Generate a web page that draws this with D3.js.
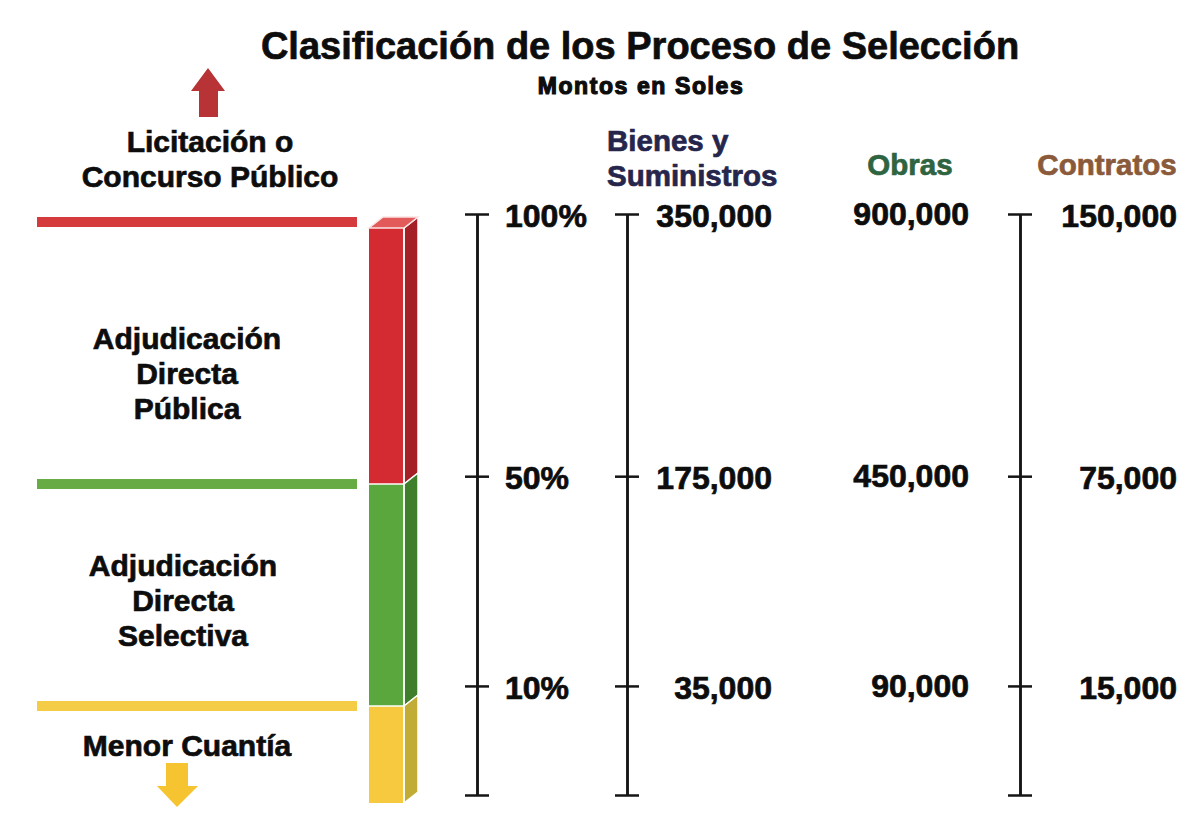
<!DOCTYPE html>
<html>
<head>
<meta charset="utf-8">
<script src="https://cdn.jsdelivr.net/npm/d3@7"></script>
<style>
  body { margin: 0; background: #fff; }
  svg text { font-family: Arial, "Liberation Sans", Helvetica, sans-serif; font-weight: 700; stroke-width: 0.7px; }
</style>
</head>
<body>
<svg id="chart"></svg>
<script>
// data
var levels = [100, 50, 10];
var pctLabels = ["100%", "50%", "10%"];
var bienes = [350000, 175000, 35000];
var obras = [900000, 450000, 90000];
var contratos = [150000, 75000, 15000];
var columns = [["Bienes y", "Suministros"], ["Obras"], ["Contratos"]];
var categories = [
  ["Licitación o", "Concurso Público"],
  ["Adjudicación", "Directa", "Pública"],
  ["Adjudicación", "Directa", "Selectiva"],
  ["Menor Cuantía"]
];
var segFrom = [50, 10, -7.5];
var segTo = [100, 50, 10];

var W = 1184, H = 827;
var fmt = d3.format(",");
var ink = "#0d0d0d";

var svg = d3.select("#chart").attr("width", W).attr("height", H);

// scales
var axisFloor = -10.8;
var yAxisScale = d3.scaleLinear().domain([axisFloor, 100]).range([795, 214]);
var yBar = d3.scaleLinear().domain([-7.5, 10, 50, 100]).range([803, 706, 484, 222]);

var segColors = [
  {front: "#d42b33", side: "#a51f27", top: "#e25a5a", line: "#d53a3c"},
  {front: "#5aa73e", side: "#3f7e2b", top: "#7cc05a", line: "#67ab45"},
  {front: "#f6c93f", side: "#c1ad36", top: "#f8d86a", line: "#f5cc45"}
];

// title
svg.append("text")
    .attr("x", 640).attr("y", 59)
    .attr("text-anchor", "middle")
    .style("font-size", "38px")
    .attr("fill", ink).attr("stroke", ink)
    .text("Clasificación de los Proceso de Selección");
svg.append("text")
    .attr("x", 641).attr("y", 94)
    .attr("text-anchor", "middle")
    .style("font-size", "23px")
    .style("letter-spacing", "1.6px")
    .attr("fill", ink).attr("stroke", ink)
    .style("stroke-width", "1.2px")
    .text("Montos en Soles");

// left colored lines
svg.selectAll(".level-line")
    .data(levels)
  .enter().append("rect")
    .attr("class", "level-line")
    .attr("x", 37)
    .attr("width", 320)
    .attr("y", d => yBar(d) - 5)
    .attr("height", 10)
    .attr("fill", (d, i) => segColors[i].line);

// 3d stacked bar
var bx = 369, bw = 35, dx = 14, dy = 11;
var seg = svg.selectAll(".bar-seg")
    .data(segTo)
  .enter().append("g")
    .attr("class", "bar-seg");

seg.append("rect")
    .attr("x", bx)
    .attr("y", (d, i) => yBar(d) + (i == 0 ? 6 : 0))
    .attr("width", bw)
    .attr("height", (d, i) => yBar(segFrom[i]) - yBar(d) - (i == 0 ? 6 : 0))
    .attr("fill", (d, i) => segColors[i].front);

seg.append("path")
    .attr("d", (d, i) => {
        var t = yBar(d) + (i == 0 ? 6 : 0), b = yBar(segFrom[i]);
        return "M" + (bx + bw) + "," + t + "L" + (bx + bw + dx) + "," + (t - dy) +
               "L" + (bx + bw + dx) + "," + (b - dy) + "L" + (bx + bw) + "," + b + "Z";
    })
    .attr("fill", (d, i) => segColors[i].side)
    .attr("stroke", "#fff").attr("stroke-width", 1.5);

// top face
svg.append("path")
    .attr("d", function() {
        var t = yBar(100) + 6;
        return "M" + bx + "," + t + "L" + (bx + dx) + "," + (t - dy) +
               "L" + (bx + bw + dx) + "," + (t - dy) + "L" + (bx + bw) + "," + t + "Z";
    })
    .attr("fill", segColors[0].top)
    .attr("stroke", "#fbe3e3").attr("stroke-width", 1.5);

// separators between segments
svg.selectAll(".seg-sep")
    .data([50, 10])
  .enter().append("line")
    .attr("x1", bx).attr("x2", bx + bw)
    .attr("y1", d => yBar(d)).attr("y2", d => yBar(d))
    .attr("stroke", "#fff").attr("stroke-width", 1.5);
svg.append("line")
    .attr("x1", bx + bw).attr("x2", bx + bw)
    .attr("y1", yBar(100) + 6).attr("y2", yBar(-7.5))
    .attr("stroke", "#fff").attr("stroke-width", 1.5);

// category labels
var catCenter = [210, 187, 183, 187];
var catTop = [152, 349, 576, 756];
categories.forEach(function(lines, i) {
    var t = svg.append("text")
        .attr("text-anchor", "middle")
        .style("font-size", "30px")
        .attr("fill", ink).attr("stroke", ink);
    lines.forEach(function(l, j) {
        t.append("tspan")
            .attr("x", catCenter[i])
            .attr("y", catTop[i] + j * 35)
            .text(l);
    });
});

// arrows
svg.append("path")
    .attr("d", "M208,68 L225,91 L218,91 L218,117 L199,117 L199,91 L191,91 Z")
    .attr("fill", "#b83336");
svg.append("path")
    .attr("d", "M166,763 L188,763 L188,786 L198,786 L177,807 L157,786 L166,786 Z")
    .attr("fill", "#f5c430");

// vertical axes
var tickVals = levels.concat([axisFloor]);
function drawAxis(x) {
    var g = svg.append("g").attr("transform", "translate(" + x + ",0)");
    g.append("g").call(d3.axisLeft(yAxisScale).tickValues(tickVals).tickSize(12).tickSizeOuter(0).tickFormat(""));
    g.append("g").call(d3.axisRight(yAxisScale).tickValues(tickVals).tickSize(12).tickSizeOuter(0).tickFormat(""));
    g.selectAll("path, line").attr("stroke", "#151515").attr("stroke-width", 2.5);
    return g;
}
drawAxis(477);
drawAxis(627);
drawAxis(1020);

// column headers
var hdr = svg.append("text").style("font-size", "29.5px")
    .attr("fill", "#26264c").attr("stroke", "#26264c");
columns[0].forEach(function(l, j) {
    hdr.append("tspan").attr("x", 607).attr("y", 151 + j * 35).text(l);
});
svg.append("text")
    .attr("x", 910).attr("y", 175)
    .attr("text-anchor", "middle")
    .style("font-size", "29.5px")
    .attr("fill", "#2f6440").attr("stroke", "#2f6440")
    .text(columns[1][0]);
svg.append("text")
    .attr("x", 1107).attr("y", 175)
    .attr("text-anchor", "middle")
    .style("font-size", "29.5px")
    .attr("fill", "#8a5a3a").attr("stroke", "#8a5a3a")
    .text(columns[2][0]);

// value labels
svg.selectAll(".pct-label")
    .data(levels)
  .enter().append("text")
    .attr("x", 505)
    .attr("y", d => yAxisScale(d) + 13)
    .style("font-size", "32px")
    .attr("fill", ink).attr("stroke", ink)
    .text((d, i) => pctLabels[i]);

function valueCol(vals, xRight, dyOff) {
    svg.selectAll(null)
        .data(vals)
      .enter().append("text")
        .attr("x", xRight)
        .attr("y", (d, i) => yAxisScale(levels[i]) + dyOff)
        .attr("text-anchor", "end")
        .style("font-size", "32px")
        .attr("fill", ink).attr("stroke", ink)
        .text(d => fmt(d));
}
valueCol(bienes, 772, 13);
valueCol(obras, 969, 11);
valueCol(contratos, 1177, 13);
</script>
</body>
</html>
